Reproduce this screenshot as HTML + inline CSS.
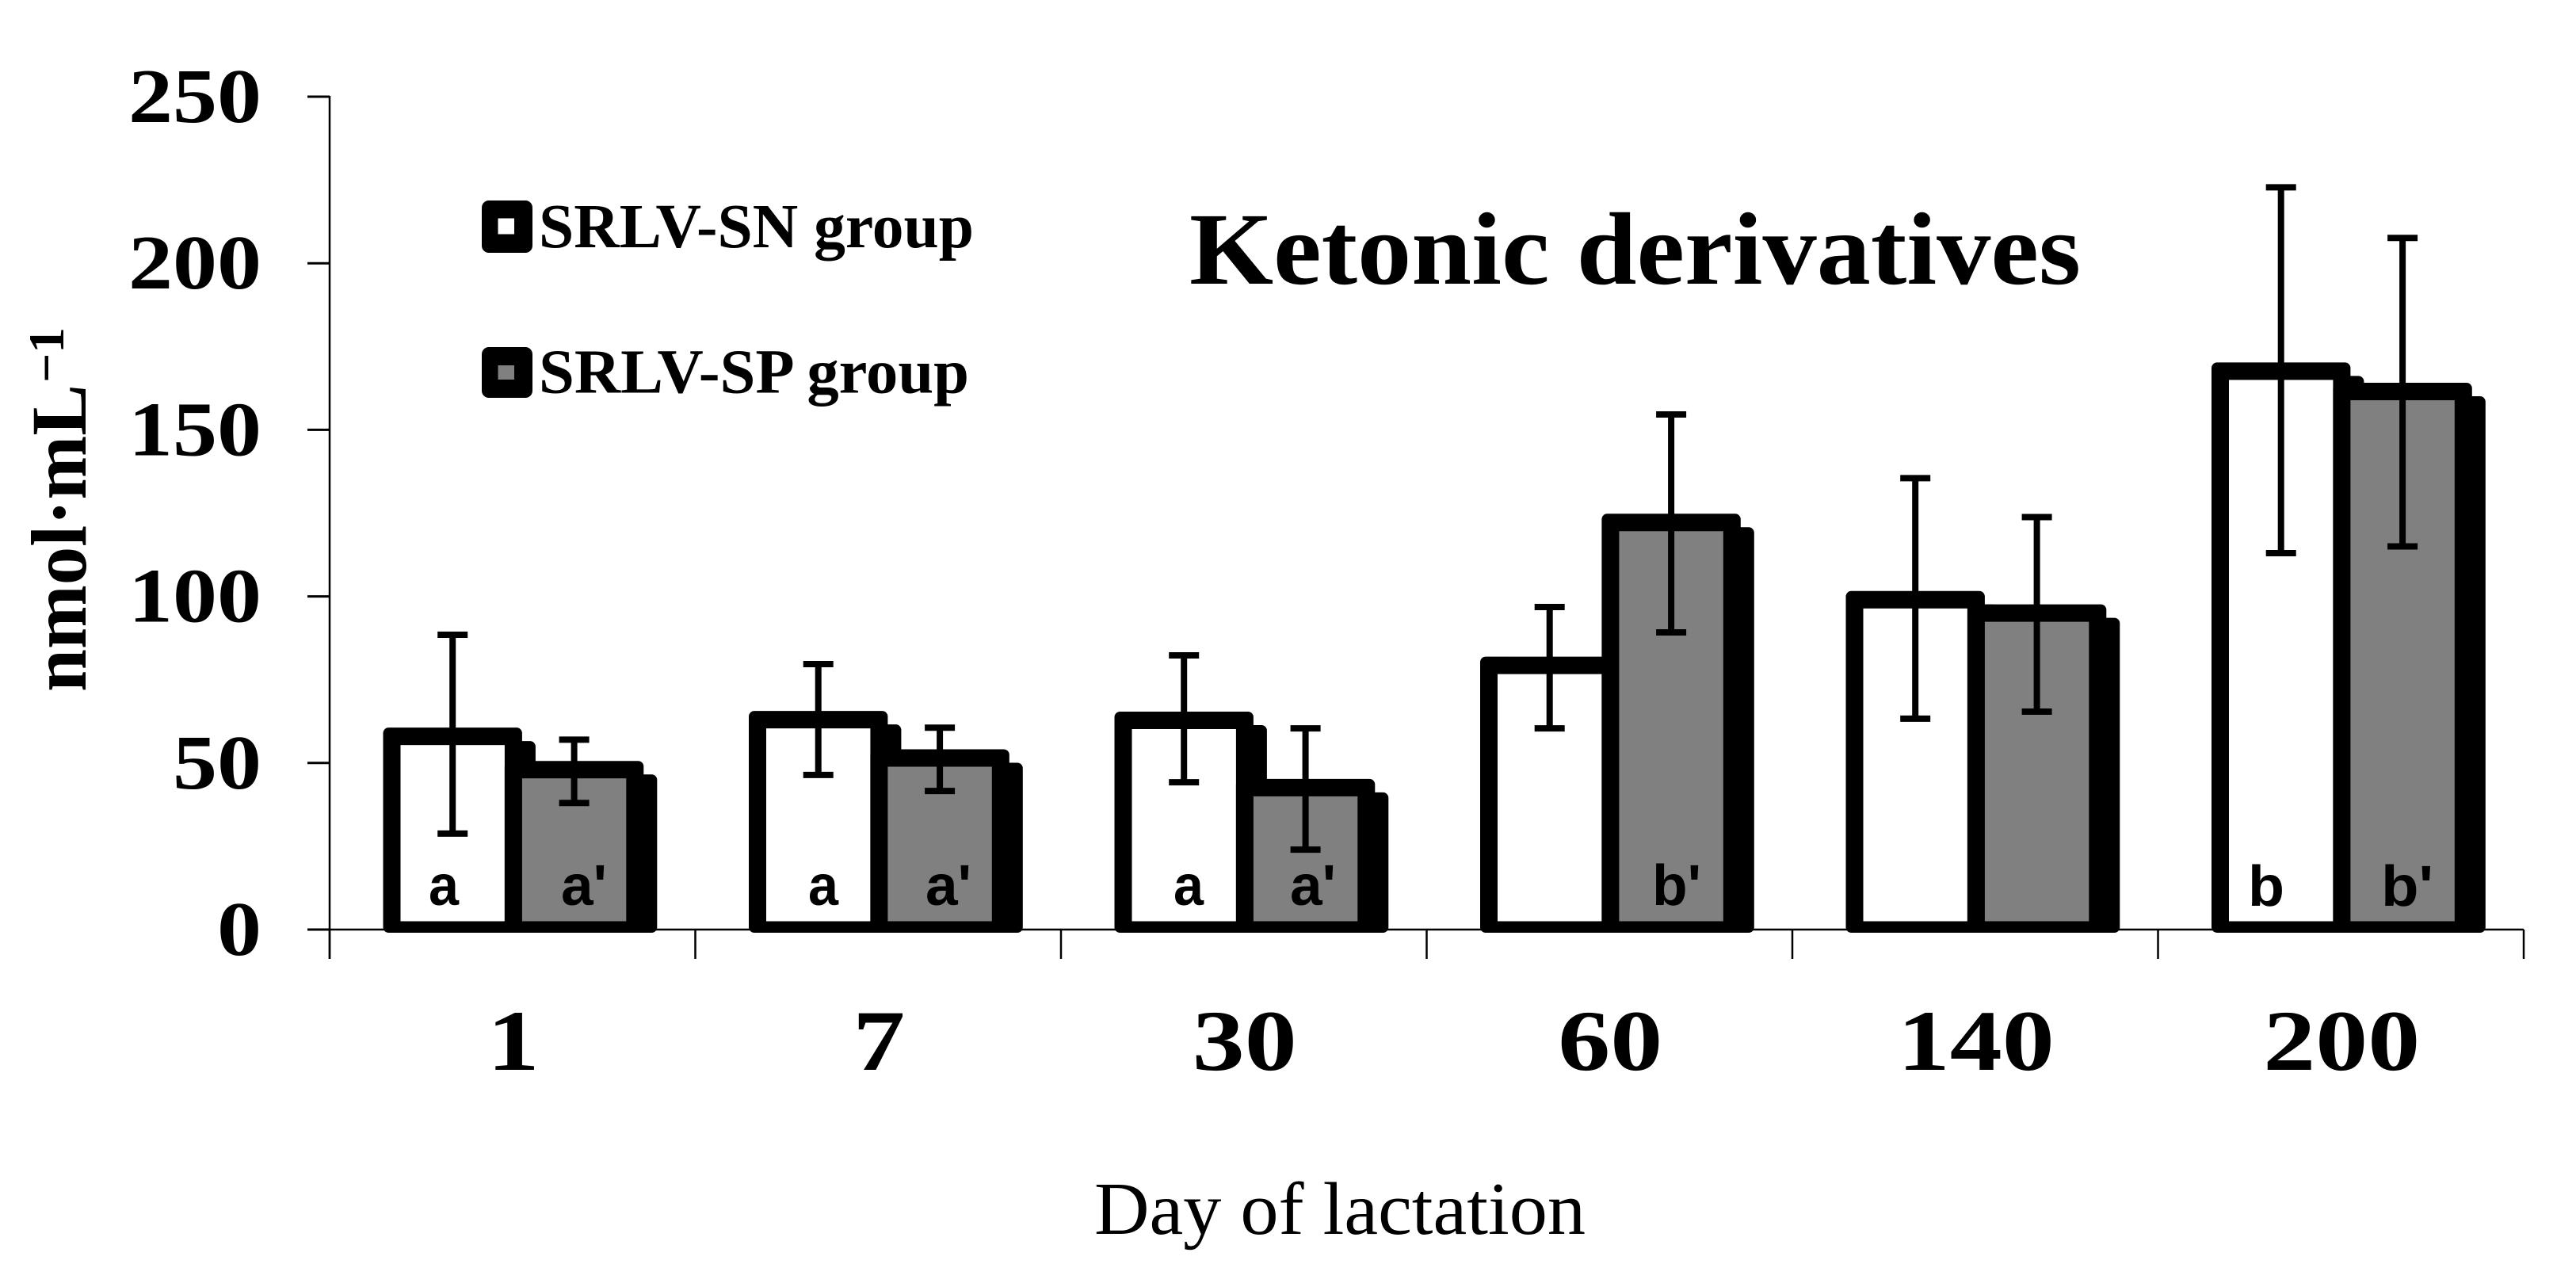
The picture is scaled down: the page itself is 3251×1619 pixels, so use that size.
<!DOCTYPE html>
<html lang="en">
<head>
<meta charset="utf-8">
<title>Ketonic derivatives</title>
<style>
  html, body { margin: 0; padding: 0; background: #ffffff; }
  body { width: 3251px; height: 1619px; overflow: hidden; }
  svg { display: block; }
  .serif { font-family: "Liberation Serif", "DejaVu Serif", serif; }
  .sans { font-family: "Liberation Sans", "DejaVu Sans", sans-serif; font-weight: 700; }
</style>
</head>
<body>
<svg id="chart" xmlns="http://www.w3.org/2000/svg" width="3251" height="1619" viewBox="0 0 3251 1619">
  <rect x="0" y="0" width="3251" height="1619" fill="#ffffff"/>
  <g id="axes"></g>
  <g id="bars"></g>
  <g id="errors"></g>

  <g class="sans" font-size="72" fill="#000000">
    <text x="541" y="1142" textLength="38" lengthAdjust="spacingAndGlyphs">a</text>
    <text x="708" y="1142" textLength="58" lengthAdjust="spacingAndGlyphs">a'</text>
    <text x="1020" y="1142" textLength="38" lengthAdjust="spacingAndGlyphs">a</text>
    <text x="1168" y="1142" textLength="58" lengthAdjust="spacingAndGlyphs">a'</text>
    <text x="1481" y="1142" textLength="38" lengthAdjust="spacingAndGlyphs">a</text>
    <text x="1628" y="1142" textLength="58" lengthAdjust="spacingAndGlyphs">a'</text>
    <text x="2085" y="1142" textLength="62" lengthAdjust="spacingAndGlyphs">b'</text>
    <text x="2837" y="1143" textLength="46" lengthAdjust="spacingAndGlyphs">b</text>
    <text x="3005" y="1143" textLength="66" lengthAdjust="spacingAndGlyphs">b'</text>
  </g>

  <text class="serif" x="1501" y="358" font-size="130" font-weight="700" textLength="1125" lengthAdjust="spacingAndGlyphs" fill="#000000">Ketonic derivatives</text>

  <g>
    <g>
      <rect x="608" y="253" width="64" height="66" rx="9" fill="#000000"/>
      <rect x="628.5" y="275.5" width="20.5" height="20" fill="#ffffff"/>
      <text class="serif" x="680" y="312" font-size="79" font-weight="700" textLength="549" lengthAdjust="spacingAndGlyphs" fill="#000000">SRLV-SN group</text>
    </g>
    <g>
      <rect x="608" y="438" width="64" height="64" rx="9" fill="#000000"/>
      <rect x="628.5" y="461" width="20.5" height="18" fill="#808080"/>
      <text class="serif" x="680" y="495.5" font-size="79" font-weight="700" textLength="543" lengthAdjust="spacingAndGlyphs" fill="#000000">SRLV-SP group</text>
    </g>
  </g>

  <g class="serif" fill="#000000">
    <text transform="translate(108 873) rotate(-90)" font-size="100" font-weight="700" textLength="388" lengthAdjust="spacingAndGlyphs">nmol·mL</text>
    <text transform="translate(80 483) rotate(-90)" font-size="64" font-weight="700" textLength="70" lengthAdjust="spacingAndGlyphs">−1</text>
  </g>

  <text class="serif" x="1381" y="1557" font-size="94" textLength="620" lengthAdjust="spacingAndGlyphs" fill="#000000">Day of lactation</text>
</svg>

<script>
const categories = ['1', '7', '30', '60', '140', '200'];
const yTickValues = [0, 50, 100, 150, 200, 250];
const snMeans = [58, 63, 62.8, 79.3, 99, 167.6];
const spMeans = [48, 51.5, 42.6, 122.2, 95, 161.5];
const snUpper = [88.5, 79.7, 82.3, 96.8, 135.5, 222.8];
const snLower = [28.8, 46.4, 44.2, 60.4, 63.3, 113];
const spUpper = [57, 60.6, 60.4, 154.6, 123.8, 207.6];
const spLower = [38, 41.6, 24, 89.2, 65.4, 115];

const NS = 'http://www.w3.org/2000/svg';
const AX_X = 416, AX_R = 3185, Y0 = 1173, Y_PER_UNIT = 4.204;
const STEP = (AX_R - AX_X) / categories.length;
const BAR_W = 153.4, STROKE = 22, SHADOW_X = 17, SHADOW_Y = 17;
const OUTER_BOTTOM = 1177, INNER_BOTTOM = 1162.5;

function yScale(v) { return Y0 - v * Y_PER_UNIT; }
function groupLeft(i) { return AX_X + 78.5 + i * STEP; }

function mk(parent, tag, attrs, text) {
  const el = document.createElementNS(NS, tag);
  for (const k in attrs) el.setAttribute(k, attrs[k]);
  if (text !== undefined) el.textContent = text;
  parent.appendChild(el);
  return el;
}

const axes = document.getElementById('axes');
const barsG = document.getElementById('bars');
const errG = document.getElementById('errors');

/* axis lines */
const yLine = mk(axes, 'line', { x1: AX_X, x2: AX_X, y1: yScale(250) - 1, y2: 1210, stroke: '#000', 'stroke-width': 2.5 });


const xLine = mk(axes, 'line', { x1: AX_X, x2: AX_R, y1: Y0, y2: Y0, stroke: '#000', 'stroke-width': 2.5 });



/* y ticks and labels */
yTickValues.forEach(function (v) {
  const y = yScale(v);
  const t = mk(axes, 'line', { x1: 388, x2: AX_X, y1: y, y2: y, stroke: '#000', 'stroke-width': 3 });
  
  
  const s = String(v);
  const digitW = 56;
  const len = digitW * s.length;
  const l = mk(axes, 'text', {
    x: 330 - len, y: y + 32, 'font-size': 98, 'font-weight': 700, 'class': 'serif',
    textLength: len, lengthAdjust: 'spacingAndGlyphs', fill: '#000'
  }, s);
  
  
});

/* x ticks and labels */
for (let i = 0; i <= categories.length; i++) {
  const x = AX_X + i * STEP;
  const t = mk(axes, 'line', { x1: x, x2: x, y1: Y0, y2: 1210, stroke: '#000', 'stroke-width': 2.5 });
  
  
}
categories.forEach(function (c, i) {
  const cx = AX_X + (i + 0.5) * STEP;
  const len = 66 * c.length;
  const l = mk(axes, 'text', {
    x: cx - len / 2 + 1, y: 1350, 'font-size': 109, 'font-weight': 700, 'class': 'serif',
    textLength: len, lengthAdjust: 'spacingAndGlyphs', fill: '#000'
  }, c);
  
  
});

/* bars */
function drawBar(left, value, fill, seriesName) {
  const top = yScale(value);
  const outerX = left - STROKE / 2, outerY = top - STROKE / 2;
  const outerW = BAR_W + STROKE;
  const shadow = mk(barsG, 'rect', {
    x: outerX + SHADOW_X, y: outerY + SHADOW_Y, width: outerW,
    height: OUTER_BOTTOM - outerY - SHADOW_Y, rx: 7, fill: '#000'
  });
  
  
  const outer = mk(barsG, 'rect', {
    x: outerX, y: outerY, width: outerW, height: OUTER_BOTTOM - outerY, rx: 7, fill: '#000'
  });
  
  
  const inner = mk(barsG, 'rect', {
    x: left + STROKE / 2, y: top + STROKE / 2, width: BAR_W - STROKE,
    height: INNER_BOTTOM - top - STROKE / 2, fill: fill
  });
  
  
}

function drawError(cx, hi, lo, seriesName) {
  const yHi = yScale(hi), yLo = yScale(lo);
  const stem = mk(errG, 'line', { x1: cx, x2: cx, y1: yHi, y2: yLo, stroke: '#000', 'stroke-width': 8 });
  
  
  const capTop = mk(errG, 'line', { x1: cx - 19, x2: cx + 19, y1: yHi, y2: yHi, stroke: '#000', 'stroke-width': 8 });
  
  
  const capBottom = mk(errG, 'line', { x1: cx - 19, x2: cx + 19, y1: yLo, y2: yLo, stroke: '#000', 'stroke-width': 8 });
  
  
}

categories.forEach(function (c, i) {
  const left = groupLeft(i);
  drawBar(left, snMeans[i], '#ffffff', 'srlv-sn-day-' + c);
  drawBar(left + BAR_W, spMeans[i], '#808080', 'srlv-sp-day-' + c);
  drawError(left + BAR_W / 2, snUpper[i], snLower[i], 'srlv-sn-day-' + c);
  drawError(left + BAR_W * 1.5, spUpper[i], spLower[i], 'srlv-sp-day-' + c);
});
</script>
</body>
</html>
